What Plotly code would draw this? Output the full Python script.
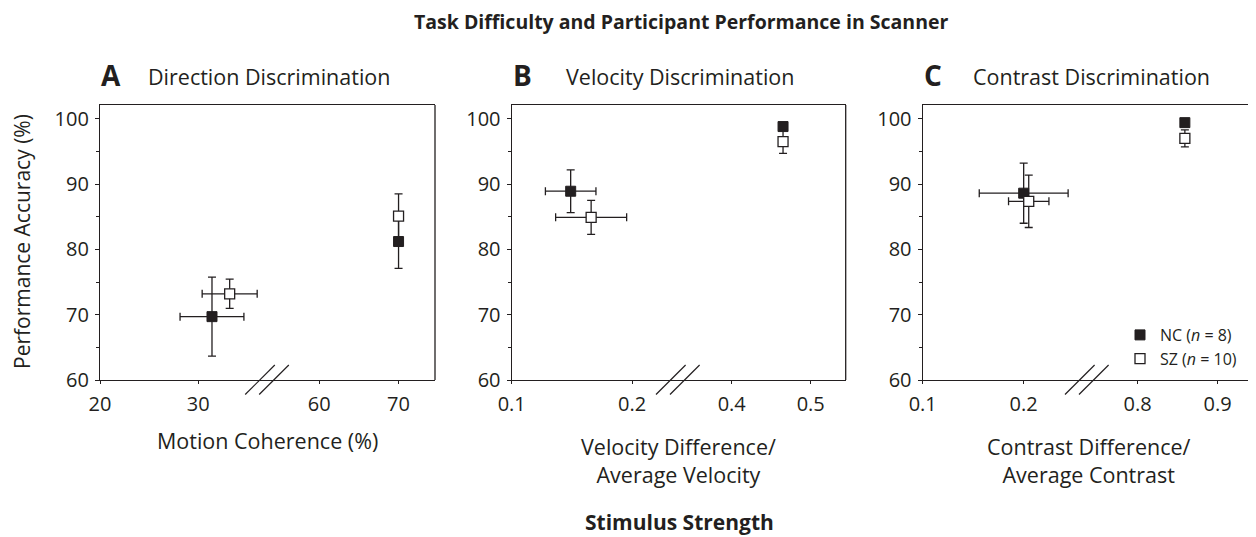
import plotly.graph_objects as go

# ---------------- data ----------------
panel_letters = ["A", "B", "C"]
panel_titles = ["Direction Discrimination", "Velocity Discrimination", "Contrast Discrimination"]
x_titles = ["Motion Coherence (%)",
            "Velocity Difference/<br>Average Velocity",
            "Contrast Difference/<br>Average Contrast"]
main_title = "Task Difficulty and Participant Performance in Scanner"
bottom_title = "Stimulus Strength"
y_title = "Performance Accuracy (%)"

# x tick labels (left segment / right segment of the broken axis)
a_ticks_left, a_ticks_right = [20, 30], [60, 70]
b_ticks_left, b_ticks_right = [0.1, 0.2], [0.4, 0.5]
c_ticks_left, c_ticks_right = [0.1, 0.2], [0.8, 0.9]

# Panel A  (Direction)
a_nc_x = [31.4, 70.0]; a_nc_y = [69.7, 81.2]; a_nc_xerr = [3.25, 0]; a_nc_yerr = [6.05, 4.1]
a_sz_x = [33.2, 70.0]; a_sz_y = [73.2, 85.1]; a_sz_xerr = [2.8, 0];  a_sz_yerr = [2.25, 3.4]
# Panel B  (Velocity)
b_nc_x = [0.149, 0.465]; b_nc_y = [88.9, 98.8]; b_nc_xerr = [0.021, 0];  b_nc_yerr = [3.27, 0.5]
b_sz_x = [0.166, 0.465]; b_sz_y = [84.9, 96.5]; b_sz_xerr = [0.0295, 0]; b_sz_yerr = [2.6, 1.8]
# Panel C  (Contrast)
c_nc_x = [0.200, 0.859]; c_nc_y = [88.6, 99.4]; c_nc_xerr = [0.044, 0]; c_nc_yerr = [4.6, 0.6]
c_sz_x = [0.205, 0.859]; c_sz_y = [87.35, 97.0]; c_sz_xerr = [0.020, 0]; c_sz_yerr = [4.0, 1.3]

groups = ["NC (<i>n</i> = 8)", "SZ (<i>n</i> = 10)"]

# ---------------- layout geometry (screen pixels) ----------------
INK = "#231f20"
FONT = "Open Sans"
OFF = 8                      # page body margin
FW, FH = 1256 - OFF, 537 - OFF
PLOT_TOP, PLOT_BOT = 105, 380
# (left px, break px, right px, left range, right range)
geom = [
    (100.0, 267.0, 435.0, [20, 37.0], [53.4, 74.6]),
    (511.7, 677.8, 845.7, [0.1, 0.238], [0.3318, 0.5443]),
    (922.7, 1086.8, 1254.3, [0.1, 0.2625], [0.7364, 0.9458]),
]
ticks = [(a_ticks_left, a_ticks_right), (b_ticks_left, b_ticks_right), (c_ticks_left, c_ticks_right)]
data = [
    ((a_nc_x, a_nc_y, a_nc_xerr, a_nc_yerr), (a_sz_x, a_sz_y, a_sz_xerr, a_sz_yerr)),
    ((b_nc_x, b_nc_y, b_nc_xerr, b_nc_yerr), (b_sz_x, b_sz_y, b_sz_xerr, b_sz_yerr)),
    ((c_nc_x, c_nc_y, c_nc_xerr, c_nc_yerr), (c_sz_x, c_sz_y, c_sz_xerr, c_sz_yerr)),
]

px = lambda v: (v - OFF) / FW
py = lambda v: 1 - (v - OFF) / FH

fig = go.Figure()
layout = dict(
    width=FW, height=FH, template="none",
    margin=dict(l=0, r=0, t=0, b=0),
    paper_bgcolor="white", plot_bgcolor="rgba(0,0,0,0)",
    font=dict(family=FONT, size=17, color=INK),
    showlegend=True,
)
shapes, annotations = [], []

marker_styles = [
    dict(symbol="square", size=10, color=INK, line=dict(color=INK, width=1)),
    dict(symbol="square", size=10, color="white", line=dict(color=INK, width=1.3)),
]
TICKFONT = dict(size=20, family=FONT, color=INK)

for p in range(3):
    left, brk, right, rl, rr = geom[p]
    il, ir, iy = 2 * p + 1, 2 * p + 2, p + 1
    xl_name = "x" if il == 1 else f"x{il}"
    xr_name = f"x{ir}"
    y_name = "y" if iy == 1 else f"y{iy}"
    axl = "xaxis" if il == 1 else f"xaxis{il}"
    axr = f"xaxis{ir}"
    ay = "yaxis" if iy == 1 else f"yaxis{iy}"

    common_x = dict(showgrid=False, zeroline=False, showline=True, mirror=True,
                    linecolor=INK, linewidth=1.3, ticks="outside", ticklen=3,
                    tickcolor=INK, tickwidth=1.2, automargin=False,
                    ticklabelstandoff=3, tickfont=TICKFONT, anchor=y_name)
    layout[axl] = dict(common_x, domain=[px(left), px(brk)], range=rl,
                       tickvals=ticks[p][0], ticktext=[str(t) for t in ticks[p][0]])
    layout[axr] = dict(common_x, domain=[px(brk), px(right)], range=rr,
                       tickvals=ticks[p][1], ticktext=[str(t) for t in ticks[p][1]])
    layout[ay] = dict(domain=[py(PLOT_BOT), py(PLOT_TOP)], range=[60, 102.1],
                      anchor=xl_name, showgrid=False, zeroline=False, showline=True,
                      linecolor=INK, linewidth=1.3, ticks="outside", ticklen=4,
                      tickcolor=INK, tickwidth=1.2, tick0=60, dtick=10, automargin=False,
                      ticklabelstandoff=2,
                      minor=dict(dtick=5, tick0=60, ticks="outside", ticklen=3,
                                 tickcolor=INK, tickwidth=1.2),
                      tickfont=TICKFONT)

    # right frame edge
    shapes.append(dict(type="line", xref="paper", yref="paper",
                       x0=px(right), x1=px(right), y0=py(PLOT_BOT), y1=py(PLOT_TOP),
                       line=dict(color=INK, width=1.3)))
    # axis break marks
    for off in (-7, 7):
        shapes.append(dict(type="line", xref="paper", yref="paper",
                           x0=px(brk + off - 14.8), y0=py(394.5),
                           x1=px(brk + off + 14.8), y1=py(365),
                           line=dict(color=INK, width=1.2)))

    # traces
    for g in range(2):
        xs, ys, xe, ye = data[p][g]
        for i in range(len(xs)):
            on_left = xs[i] <= rl[1]
            fig.add_trace(go.Scatter(
                x=[xs[i]], y=[ys[i]], mode="markers",
                xaxis=xl_name if on_left else xr_name, yaxis=y_name,
                marker=marker_styles[g],
                error_x=dict(type="data", array=[xe[i]], visible=xe[i] > 0,
                             color=INK, thickness=1.3, width=4),
                error_y=dict(type="data", array=[ye[i]], visible=True,
                             color=INK, thickness=1.3, width=4),
                name=groups[g], legendgroup=groups[g],
                showlegend=(p == 2 and i == 0),
                hoverinfo="skip",
            ))

    # panel letter + subtitle
    annotations.append(dict(text=f"<b>{panel_letters[p]}</b>", xref="paper", yref="paper",
                            x=px(left - 1), y=py(75), xanchor="left", yanchor="middle",
                            showarrow=False, font=dict(size=28, family=FONT, color=INK)))
    sub_x = [146, 564, 971][p]
    annotations.append(dict(text=panel_titles[p], xref="paper", yref="paper",
                            x=px(sub_x), y=py(76), xanchor="left", yanchor="middle",
                            showarrow=False, font=dict(size=21.5, family=FONT, color=INK)))
    # x axis title
    annotations.append(dict(text=x_titles[p], xref="paper", yref="paper",
                            x=px((left + right) / 2), y=py(440 if p == 0 else 460),
                            xanchor="center", yanchor="middle", showarrow=False,
                            font=dict(size=21.5, family=FONT, color=INK)))

annotations.append(dict(text=f"<b>{main_title}</b>", xref="paper", yref="paper",
                        x=px(681), y=py(21.5), xanchor="center", yanchor="middle",
                        showarrow=False, font=dict(size=19.5, family=FONT, color=INK)))
annotations.append(dict(text=f"<b>{bottom_title}</b>", xref="paper", yref="paper",
                        x=px(679), y=py(522), xanchor="center", yanchor="middle",
                        showarrow=False, font=dict(size=21, family=FONT, color=INK)))
annotations.append(dict(text=y_title, xref="paper", yref="paper", textangle=-90,
                        x=px(22), y=py(242), xanchor="center", yanchor="middle",
                        showarrow=False, font=dict(size=21, family=FONT, color=INK)))

layout["shapes"] = shapes
layout["annotations"] = annotations
layout["legend"] = dict(x=px(1120), y=py(347), xanchor="left", yanchor="middle",
                        bgcolor="rgba(0,0,0,0)", borderwidth=0, itemwidth=30,
                        tracegroupgap=0, font=dict(size=16, family=FONT, color=INK))
fig.update_layout(**layout)
fig.write_html("out.html")
